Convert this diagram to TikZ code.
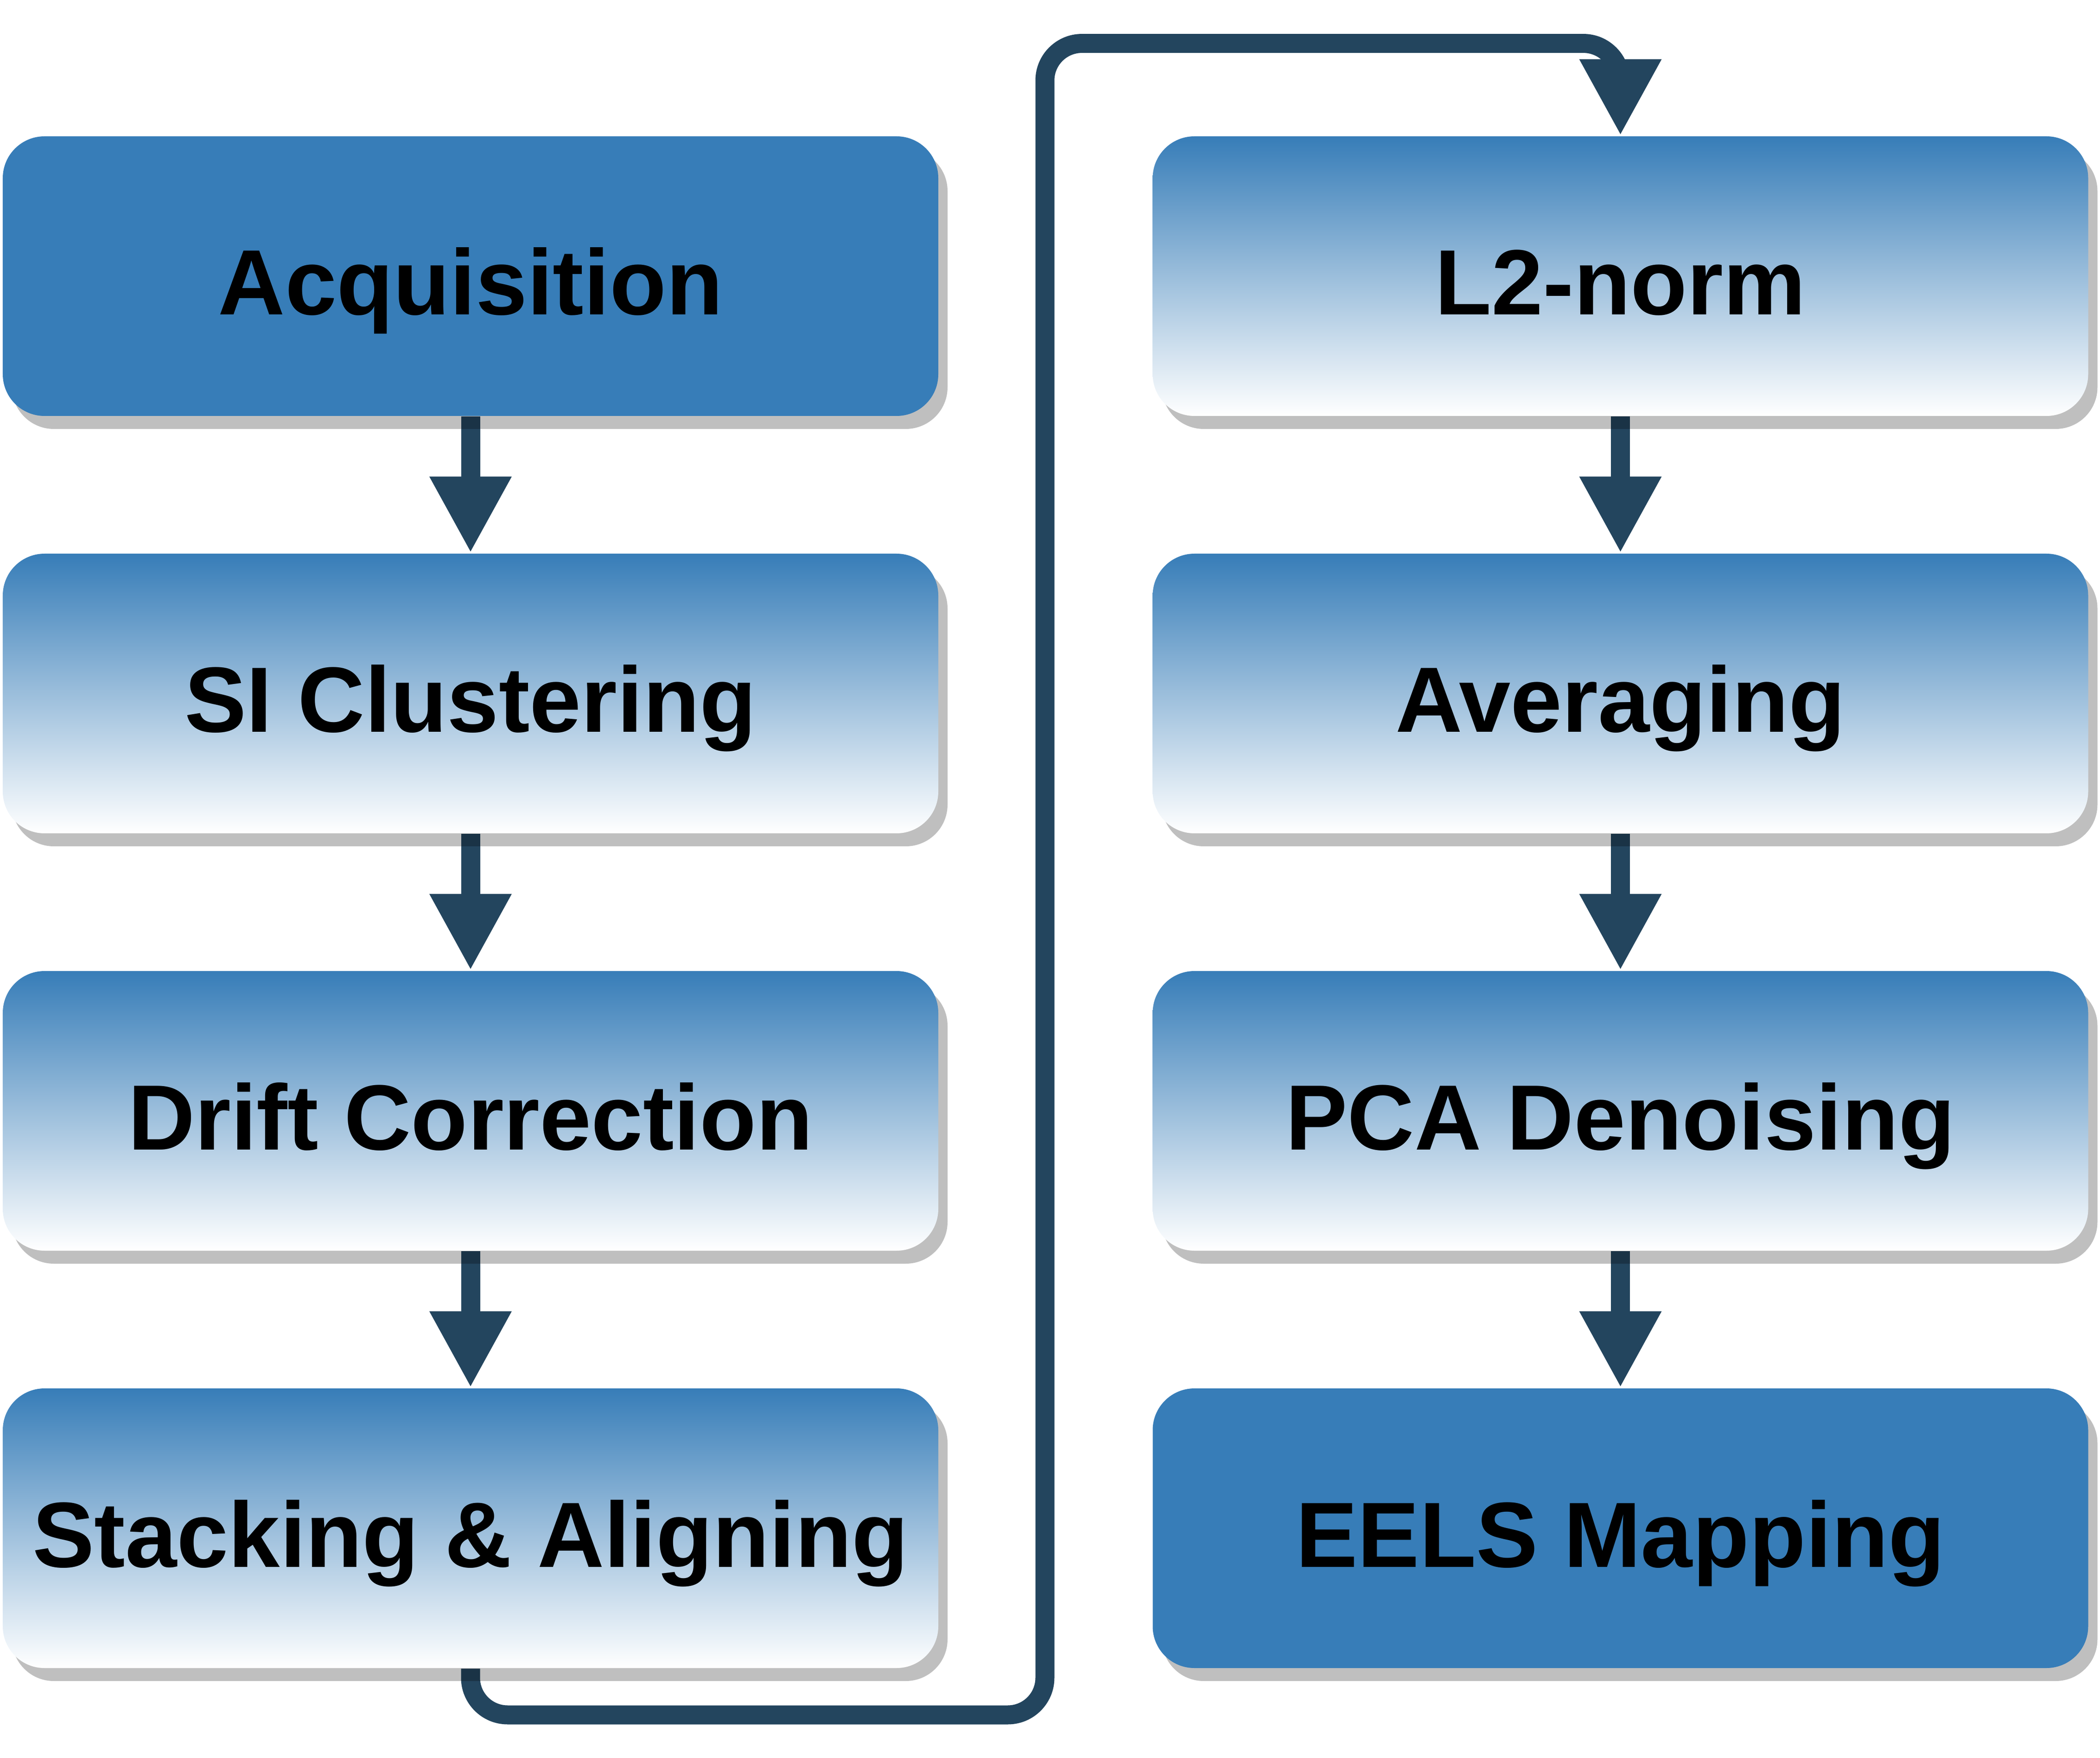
\documentclass[tikz,border=0pt]{standalone}
\usepackage{fontspec}
\setmainfont{Liberation Sans}
\usetikzlibrary{arrows.meta,shadows,backgrounds}
\definecolor{boxblue}{RGB}{55,125,184}
\definecolor{flowblue}{RGB}{35,69,94}
\begin{document}
\begin{tikzpicture}[
  stepbox/.style={rounded corners=0.45cm, minimum width=10.09cm, minimum height=3.015cm,
    text height=0.835cm, text depth=0pt,
    font=\fontsize{28.45pt}{34pt}\selectfont\bfseries,
    drop shadow={shadow xshift=0.1cm, shadow yshift=-0.14cm, fill=black, opacity=0.25}},
  darkbox/.style={stepbox, fill=boxblue},
  fadebox/.style={stepbox, top color=boxblue, bottom color=white},
  flow/.style={flowblue, line width=0.205cm, -{Triangle[width=0.825cm,length=0.825cm]}}
]
\useasboundingbox (0,0) rectangle (22.65,18.95);

\node[darkbox] (acq) at (5.075,15.9725) {Acquisition};
\node[fadebox] (clus) at (5.075,11.4725) {SI Clustering};
\node[fadebox] (drift) at (5.075,6.9725) {Drift Correction};
\node[fadebox] (stack) at (5.075,2.4725) {Stacking \& Aligning};

\node[fadebox] (norm) at (17.4775,15.9725) {L2-norm};
\node[fadebox] (avg) at (17.4775,11.4725) {Averaging};
\node[fadebox] (pca) at (17.4775,6.9725) {PCA Denoising};
\node[darkbox] (eels) at (17.4775,2.4725) {EELS Mapping};

\begin{scope}[on background layer]
\draw[flow] (acq) -- (clus);
\draw[flow] (clus) -- (drift);
\draw[flow] (drift) -- (stack);
\draw[flow, rounded corners=0.4cm] (stack.south) |- (11.27,0.46) |- ([yshift=0.995cm]norm.north) -- (norm.north);
\draw[flow] (norm) -- (avg);
\draw[flow] (avg) -- (pca);
\draw[flow] (pca) -- (eels);
\end{scope}
\end{tikzpicture}
\end{document}
